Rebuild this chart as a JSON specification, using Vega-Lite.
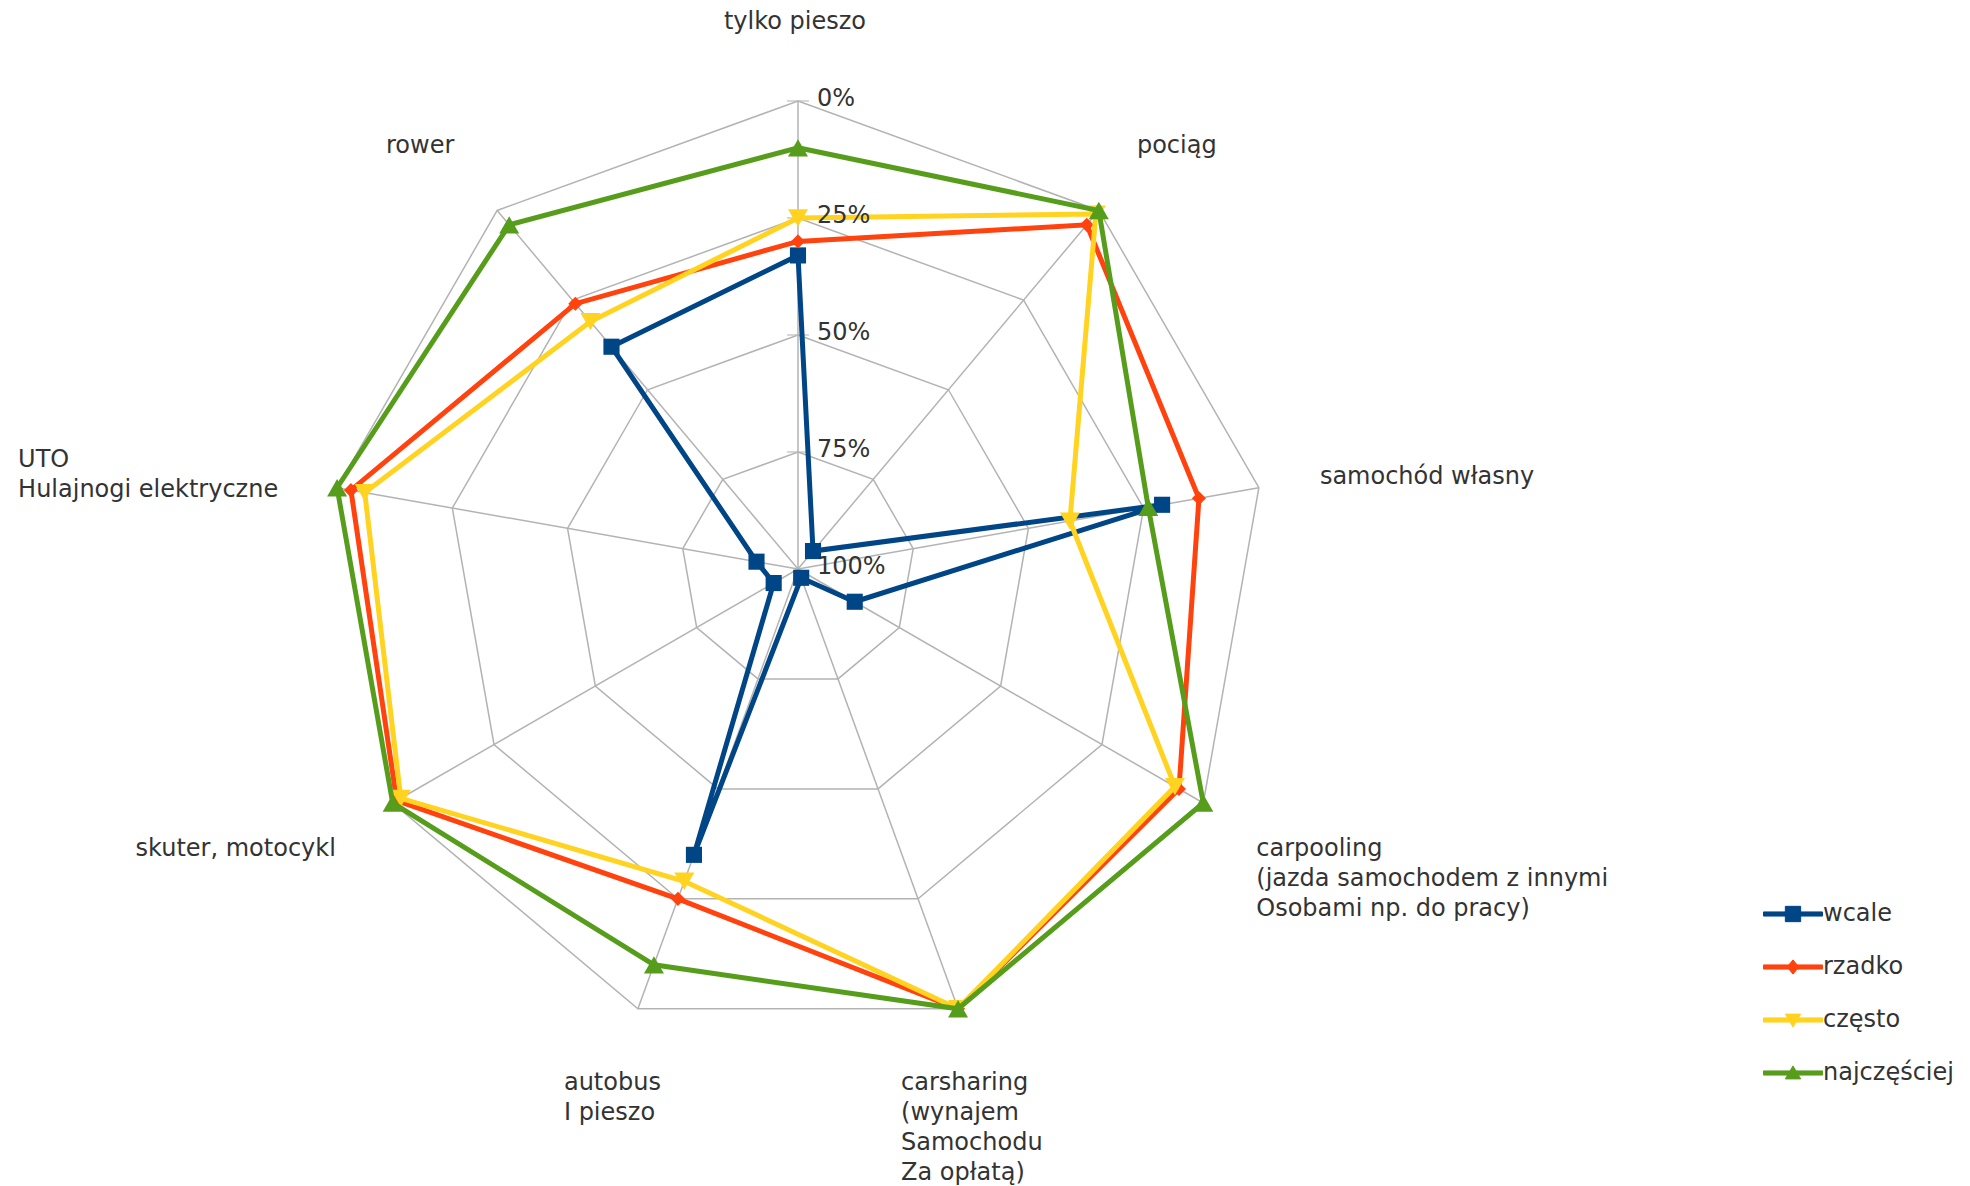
{
  "$schema": "https://vega.github.io/schema/vega-lite/v6.json",
  "width": 1970,
  "height": 1186,
  "autosize": {"type": "none"},
  "padding": 0,
  "background": "white",
  "config": {"view": {"stroke": null}, "font": "DejaVu Sans", "text": {"font": "DejaVu Sans", "fontSize": 24, "color": "#333333"}},
  "datasets": {
    "series": [
      {"series": "wcale", "cat": "tylko pieszo", "idx": 0, "value": 33},
      {"series": "wcale", "cat": "pociąg", "idx": 1, "value": 95},
      {"series": "wcale", "cat": "samochód własny", "idx": 2, "value": 21},
      {"series": "wcale", "cat": "carpooling", "idx": 3, "value": 86},
      {"series": "wcale", "cat": "carsharing", "idx": 4, "value": 98},
      {"series": "wcale", "cat": "autobus", "idx": 5, "value": 35},
      {"series": "wcale", "cat": "skuter, motocykl", "idx": 6, "value": 94},
      {"series": "wcale", "cat": "UTO", "idx": 7, "value": 91},
      {"series": "wcale", "cat": "rower", "idx": 8, "value": 38},
      {"series": "rzadko", "cat": "tylko pieszo", "idx": 0, "value": 30},
      {"series": "rzadko", "cat": "pociąg", "idx": 1, "value": 4},
      {"series": "rzadko", "cat": "samochód własny", "idx": 2, "value": 13},
      {"series": "rzadko", "cat": "carpooling", "idx": 3, "value": 6},
      {"series": "rzadko", "cat": "carsharing", "idx": 4, "value": 0},
      {"series": "rzadko", "cat": "autobus", "idx": 5, "value": 25},
      {"series": "rzadko", "cat": "skuter, motocykl", "idx": 6, "value": 1},
      {"series": "rzadko", "cat": "UTO", "idx": 7, "value": 3},
      {"series": "rzadko", "cat": "rower", "idx": 8, "value": 26},
      {"series": "często", "cat": "tylko pieszo", "idx": 0, "value": 25},
      {"series": "często", "cat": "pociąg", "idx": 1, "value": 1},
      {"series": "często", "cat": "samochód własny", "idx": 2, "value": 41},
      {"series": "często", "cat": "carpooling", "idx": 3, "value": 7},
      {"series": "często", "cat": "carsharing", "idx": 4, "value": 0},
      {"series": "często", "cat": "autobus", "idx": 5, "value": 29},
      {"series": "często", "cat": "skuter, motocykl", "idx": 6, "value": 2},
      {"series": "często", "cat": "UTO", "idx": 7, "value": 6},
      {"series": "często", "cat": "rower", "idx": 8, "value": 31},
      {"series": "najczęściej", "cat": "tylko pieszo", "idx": 0, "value": 10},
      {"series": "najczęściej", "cat": "pociąg", "idx": 1, "value": 0},
      {"series": "najczęściej", "cat": "samochód własny", "idx": 2, "value": 24},
      {"series": "najczęściej", "cat": "carpooling", "idx": 3, "value": 0},
      {"series": "najczęściej", "cat": "carsharing", "idx": 4, "value": 0},
      {"series": "najczęściej", "cat": "autobus", "idx": 5, "value": 10},
      {"series": "najczęściej", "cat": "skuter, motocykl", "idx": 6, "value": 0},
      {"series": "najczęściej", "cat": "UTO", "idx": 7, "value": 0},
      {"series": "najczęściej", "cat": "rower", "idx": 8, "value": 4}
    ],
    "axes": [
      {"cat": "tylko pieszo", "idx": 0, "lines": ["tylko pieszo"]},
      {"cat": "pociąg", "idx": 1, "lines": ["pociąg"]},
      {"cat": "samochód własny", "idx": 2, "lines": ["samochód własny"]},
      {"cat": "carpooling", "idx": 3, "lines": ["carpooling", "(jazda samochodem z innymi", "Osobami np. do pracy)"]},
      {"cat": "carsharing", "idx": 4, "lines": ["carsharing", "(wynajem", "\u00a0Samochodu", "Za opłatą)"]},
      {"cat": "autobus", "idx": 5, "lines": ["autobus", "I pieszo"]},
      {"cat": "skuter, motocykl", "idx": 6, "lines": ["skuter, motocykl"]},
      {"cat": "UTO", "idx": 7, "lines": ["UTO", "Hulajnogi elektryczne"]},
      {"cat": "rower", "idx": 8, "lines": ["rower"]}
    ],
    "grid": [
      {"level": 0, "idx": 0}, {"level": 0, "idx": 1}, {"level": 0, "idx": 2}, {"level": 0, "idx": 3}, {"level": 0, "idx": 4}, {"level": 0, "idx": 5}, {"level": 0, "idx": 6}, {"level": 0, "idx": 7}, {"level": 0, "idx": 8},
      {"level": 25, "idx": 0}, {"level": 25, "idx": 1}, {"level": 25, "idx": 2}, {"level": 25, "idx": 3}, {"level": 25, "idx": 4}, {"level": 25, "idx": 5}, {"level": 25, "idx": 6}, {"level": 25, "idx": 7}, {"level": 25, "idx": 8},
      {"level": 50, "idx": 0}, {"level": 50, "idx": 1}, {"level": 50, "idx": 2}, {"level": 50, "idx": 3}, {"level": 50, "idx": 4}, {"level": 50, "idx": 5}, {"level": 50, "idx": 6}, {"level": 50, "idx": 7}, {"level": 50, "idx": 8},
      {"level": 75, "idx": 0}, {"level": 75, "idx": 1}, {"level": 75, "idx": 2}, {"level": 75, "idx": 3}, {"level": 75, "idx": 4}, {"level": 75, "idx": 5}, {"level": 75, "idx": 6}, {"level": 75, "idx": 7}, {"level": 75, "idx": 8}
    ],
    "ticks": [
      {"level": 0, "label": "0%"},
      {"level": 25, "label": "25%"},
      {"level": 50, "label": "50%"},
      {"level": 75, "label": "75%"},
      {"level": 100, "label": "100%"}
    ]
  },
  "encoding": {
    "x": {"field": "px", "type": "quantitative", "scale": {"domain": [-1.7051, 2.5043], "nice": false, "zero": false}, "axis": null},
    "y": {"field": "py", "type": "quantitative", "scale": {"domain": [-1.3184, 1.2158], "nice": false, "zero": false}, "axis": null}
  },
  "layer": [
    {
      "data": {"name": "grid"},
      "transform": [
        {"calculate": "datum.idx * 2 * PI / 9", "as": "a"},
        {"calculate": "1 - datum.level / 100", "as": "r"},
        {"calculate": "datum.r * sin(datum.a)", "as": "px"},
        {"calculate": "datum.r * cos(datum.a)", "as": "py"}
      ],
      "mark": {"type": "line", "interpolate": "linear-closed", "color": "#b3b3b3", "strokeWidth": 1.5},
      "encoding": {"detail": {"field": "level"}, "order": {"field": "idx", "type": "quantitative"}}
    },
    {
      "data": {"name": "axes"},
      "transform": [
        {"calculate": "datum.idx * 2 * PI / 9", "as": "a"},
        {"calculate": "sin(datum.a)", "as": "px"},
        {"calculate": "cos(datum.a)", "as": "py"}
      ],
      "mark": {"type": "rule", "color": "#b3b3b3", "strokeWidth": 1.5},
      "encoding": {"x2": {"datum": 0}, "y2": {"datum": 0}}
    },
    {
      "data": {"name": "ticks"},
      "transform": [
        {"filter": "datum.level < 100"},
        {"calculate": "0", "as": "px"},
        {"calculate": "1 - datum.level / 100", "as": "py"}
      ],
      "mark": {"type": "tick", "orient": "horizontal", "color": "#b3b3b3", "size": 22, "thickness": 1.5}
    },
    {
      "data": {"name": "series"},
      "transform": [
        {"filter": "datum.series == 'wcale'"},
        {"calculate": "datum.idx * 2 * PI / 9", "as": "a"},
        {"calculate": "1 - datum.value / 100", "as": "r"},
        {"calculate": "datum.r * sin(datum.a)", "as": "px"},
        {"calculate": "datum.r * cos(datum.a)", "as": "py"}
      ],
      "mark": {"type": "line", "interpolate": "linear-closed", "strokeWidth": 5},
      "encoding": {
        "color": {
          "field": "series",
          "type": "nominal",
          "scale": {"domain": ["wcale", "rzadko", "często", "najczęściej"], "range": ["#004586", "#ff420e", "#ffd320", "#579d1c"]},
          "legend": {
            "title": null,
            "orient": "none",
            "legendX": 1763,
            "legendY": 884,
            "labelFont": "DejaVu Sans",
            "labelFontSize": 24,
            "labelColor": "#333333",
            "labelOffset": 0,
            "rowPadding": 11,
            "symbolSize": 3481,
            "symbolStrokeWidth": 1,
            "symbolOpacity": 1,
            "symbolType": {"expr": "datum.value === 'wcale' ? 'M-1,-0.07H1V0.07H-1Z M-0.26,-0.26H0.26V0.26H-0.26Z' : datum.value === 'rzadko' ? 'M-1,-0.07H1V0.07H-1Z M0,-0.24L0.2,0L0,0.24L-0.2,0Z' : datum.value === 'często' ? 'M-1,-0.07H1V0.07H-1Z M-0.26,-0.2H0.26L0,0.24Z' : 'M-1,-0.07H1V0.07H-1Z M0,-0.24L0.26,0.2H-0.26Z'"}
          }
        },
        "order": {"field": "idx", "type": "quantitative"}
      }
    },
    {
      "data": {"name": "series"},
      "transform": [
        {"filter": "datum.series == 'wcale'"},
        {"calculate": "datum.idx * 2 * PI / 9", "as": "a"},
        {"calculate": "1 - datum.value / 100", "as": "r"},
        {"calculate": "datum.r * sin(datum.a)", "as": "px"},
        {"calculate": "datum.r * cos(datum.a)", "as": "py"}
      ],
      "mark": {"type": "point", "filled": true, "opacity": 1, "shape": "square", "size": 260},
      "encoding": {"color": {"field": "series", "type": "nominal"}}
    },
    {
      "data": {"name": "series"},
      "transform": [
        {"filter": "datum.series == 'rzadko'"},
        {"calculate": "datum.idx * 2 * PI / 9", "as": "a"},
        {"calculate": "1 - datum.value / 100", "as": "r"},
        {"calculate": "datum.r * sin(datum.a)", "as": "px"},
        {"calculate": "datum.r * cos(datum.a)", "as": "py"}
      ],
      "mark": {"type": "line", "interpolate": "linear-closed", "strokeWidth": 5},
      "encoding": {"color": {"field": "series", "type": "nominal"}, "order": {"field": "idx", "type": "quantitative"}}
    },
    {
      "data": {"name": "series"},
      "transform": [
        {"filter": "datum.series == 'rzadko'"},
        {"calculate": "datum.idx * 2 * PI / 9", "as": "a"},
        {"calculate": "1 - datum.value / 100", "as": "r"},
        {"calculate": "datum.r * sin(datum.a)", "as": "px"},
        {"calculate": "datum.r * cos(datum.a)", "as": "py"}
      ],
      "mark": {"type": "point", "filled": true, "opacity": 1, "shape": "diamond", "size": 200},
      "encoding": {"color": {"field": "series", "type": "nominal"}}
    },
    {
      "data": {"name": "series"},
      "transform": [
        {"filter": "datum.series == 'często'"},
        {"calculate": "datum.idx * 2 * PI / 9", "as": "a"},
        {"calculate": "1 - datum.value / 100", "as": "r"},
        {"calculate": "datum.r * sin(datum.a)", "as": "px"},
        {"calculate": "datum.r * cos(datum.a)", "as": "py"}
      ],
      "mark": {"type": "line", "interpolate": "linear-closed", "strokeWidth": 5},
      "encoding": {"color": {"field": "series", "type": "nominal"}, "order": {"field": "idx", "type": "quantitative"}}
    },
    {
      "data": {"name": "series"},
      "transform": [
        {"filter": "datum.series == 'często'"},
        {"calculate": "datum.idx * 2 * PI / 9", "as": "a"},
        {"calculate": "1 - datum.value / 100", "as": "r"},
        {"calculate": "datum.r * sin(datum.a)", "as": "px"},
        {"calculate": "datum.r * cos(datum.a)", "as": "py"}
      ],
      "mark": {"type": "point", "filled": true, "opacity": 1, "shape": "triangle-down", "size": 400},
      "encoding": {"color": {"field": "series", "type": "nominal"}}
    },
    {
      "data": {"name": "series"},
      "transform": [
        {"filter": "datum.series == 'najczęściej'"},
        {"calculate": "datum.idx * 2 * PI / 9", "as": "a"},
        {"calculate": "1 - datum.value / 100", "as": "r"},
        {"calculate": "datum.r * sin(datum.a)", "as": "px"},
        {"calculate": "datum.r * cos(datum.a)", "as": "py"}
      ],
      "mark": {"type": "line", "interpolate": "linear-closed", "strokeWidth": 5},
      "encoding": {"color": {"field": "series", "type": "nominal"}, "order": {"field": "idx", "type": "quantitative"}}
    },
    {
      "data": {"name": "series"},
      "transform": [
        {"filter": "datum.series == 'najczęściej'"},
        {"calculate": "datum.idx * 2 * PI / 9", "as": "a"},
        {"calculate": "1 - datum.value / 100", "as": "r"},
        {"calculate": "datum.r * sin(datum.a)", "as": "px"},
        {"calculate": "datum.r * cos(datum.a)", "as": "py"}
      ],
      "mark": {"type": "point", "filled": true, "opacity": 1, "shape": "triangle-up", "size": 400},
      "encoding": {"color": {"field": "series", "type": "nominal"}}
    },
    {
      "data": {"name": "ticks"},
      "transform": [
        {"calculate": "0", "as": "px"},
        {"calculate": "1 - datum.level / 100", "as": "py"}
      ],
      "mark": {"type": "text", "align": "left", "baseline": "middle", "dx": 19, "dy": -2},
      "encoding": {"text": {"field": "label"}}
    },
    {
      "data": {"name": "axes"},
      "transform": [
        {"filter": "datum.idx == 0"},
        {"calculate": "datum.idx * 2 * PI / 9", "as": "a"},
        {"calculate": "sin(datum.a)", "as": "px"},
        {"calculate": "cos(datum.a)", "as": "py"}
      ],
      "mark": {"type": "text", "align": "center", "baseline": "middle", "dx": -3, "dy": -79},
      "encoding": {"text": {"field": "lines"}}
    },
    {
      "data": {"name": "axes"},
      "transform": [
        {"filter": "datum.idx == 1"},
        {"calculate": "datum.idx * 2 * PI / 9", "as": "a"},
        {"calculate": "sin(datum.a)", "as": "px"},
        {"calculate": "cos(datum.a)", "as": "py"}
      ],
      "mark": {"type": "text", "align": "center", "baseline": "middle", "dx": 78, "dy": -64},
      "encoding": {"text": {"field": "lines"}}
    },
    {
      "data": {"name": "axes"},
      "transform": [
        {"filter": "datum.idx == 2"},
        {"calculate": "datum.idx * 2 * PI / 9", "as": "a"},
        {"calculate": "sin(datum.a)", "as": "px"},
        {"calculate": "cos(datum.a)", "as": "py"}
      ],
      "mark": {"type": "text", "align": "left", "baseline": "middle", "dx": 61, "dy": -11},
      "encoding": {"text": {"field": "lines"}}
    },
    {
      "data": {"name": "axes"},
      "transform": [
        {"filter": "datum.idx == 3"},
        {"calculate": "datum.idx * 2 * PI / 9", "as": "a"},
        {"calculate": "sin(datum.a)", "as": "px"},
        {"calculate": "cos(datum.a)", "as": "py"}
      ],
      "mark": {"type": "text", "align": "left", "baseline": "top", "lineHeight": 30, "dx": 53, "dy": 34},
      "encoding": {"text": {"field": "lines"}}
    },
    {
      "data": {"name": "axes"},
      "transform": [
        {"filter": "datum.idx == 4"},
        {"calculate": "datum.idx * 2 * PI / 9", "as": "a"},
        {"calculate": "sin(datum.a)", "as": "px"},
        {"calculate": "cos(datum.a)", "as": "py"}
      ],
      "mark": {"type": "text", "align": "left", "baseline": "top", "lineHeight": 30, "dx": -57, "dy": 62},
      "encoding": {"text": {"field": "lines"}}
    },
    {
      "data": {"name": "axes"},
      "transform": [
        {"filter": "datum.idx == 5"},
        {"calculate": "datum.idx * 2 * PI / 9", "as": "a"},
        {"calculate": "sin(datum.a)", "as": "px"},
        {"calculate": "cos(datum.a)", "as": "py"}
      ],
      "mark": {"type": "text", "align": "left", "baseline": "top", "lineHeight": 30, "dx": -74, "dy": 62},
      "encoding": {"text": {"field": "lines"}}
    },
    {
      "data": {"name": "axes"},
      "transform": [
        {"filter": "datum.idx == 6"},
        {"calculate": "datum.idx * 2 * PI / 9", "as": "a"},
        {"calculate": "sin(datum.a)", "as": "px"},
        {"calculate": "cos(datum.a)", "as": "py"}
      ],
      "mark": {"type": "text", "align": "center", "baseline": "middle", "dx": -157, "dy": 46},
      "encoding": {"text": {"field": "lines"}}
    },
    {
      "data": {"name": "axes"},
      "transform": [
        {"filter": "datum.idx == 7"},
        {"calculate": "datum.idx * 2 * PI / 9", "as": "a"},
        {"calculate": "sin(datum.a)", "as": "px"},
        {"calculate": "cos(datum.a)", "as": "py"}
      ],
      "mark": {"type": "text", "align": "left", "baseline": "top", "lineHeight": 30, "dx": -319, "dy": -40},
      "encoding": {"text": {"field": "lines"}}
    },
    {
      "data": {"name": "axes"},
      "transform": [
        {"filter": "datum.idx == 8"},
        {"calculate": "datum.idx * 2 * PI / 9", "as": "a"},
        {"calculate": "sin(datum.a)", "as": "px"},
        {"calculate": "cos(datum.a)", "as": "py"}
      ],
      "mark": {"type": "text", "align": "center", "baseline": "middle", "dx": -77, "dy": -64},
      "encoding": {"text": {"field": "lines"}}
    }
  ]
}
